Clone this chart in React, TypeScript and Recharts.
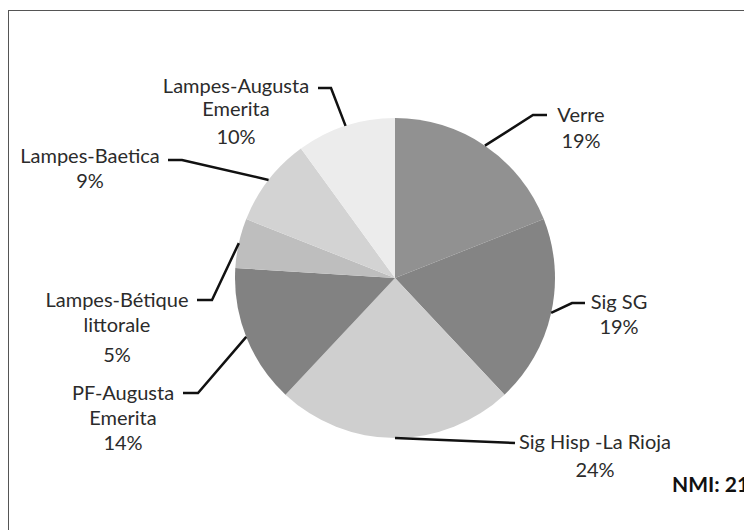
import React from "react";
import { PieChart, Pie, Cell } from "recharts";

// slice data, clockwise from 12 o'clock
const categories = [
  "Verre",
  "Sig SG",
  "Sig Hisp -La Rioja",
  "PF-Augusta Emerita",
  "Lampes-Bétique littorale",
  "Lampes-Baetica",
  "Lampes-Augusta Emerita",
];
const shares = [19, 19, 24, 14, 5, 9, 10];
const labelLines = [
  ["Verre"],
  ["Sig SG"],
  ["Sig Hisp -La Rioja"],
  ["PF-Augusta", "Emerita"],
  ["Lampes-Bétique", "littorale"],
  ["Lampes-Baetica"],
  ["Lampes-Augusta", "Emerita"],
];
const fills = ["#919191", "#848484", "#cfcfcf", "#828282", "#bebebe", "#d3d3d3", "#ececec"];

const data = categories.map((name, i) => ({ name, value: shares[i] }));

// label placement relative to pie centre: elbow, stub end, text centre x, line y's
const layout = [
  { ex: 138, ey: -163, sx: 152, tx: 186, ys: [-164, -138] },
  { ex: 177, ey: 25, sx: 190, tx: 224, ys: [23, 48] },
  { ex: 120, ey: 165, sx: 120, tx: 200, ys: [163, 191] },
  { ex: -197, ey: 115, sx: -212, tx: -272, ys: [114, 139, 164] },
  { ex: -183, ey: 22, sx: -198, tx: -278, ys: [21, 46, 76] },
  { ex: -213, ey: -118, sx: -227, tx: -305, ys: [-123, -98] },
  { ex: -64, ey: -190, sx: -77, tx: -159, ys: [-193, -170, -142] },
];

const RAD = Math.PI / 180;

function renderLabel(props: any) {
  const { cx, cy, midAngle, outerRadius, index, value } = props;
  const l = layout[index];
  const x0 = cx + Math.cos(-midAngle * RAD) * outerRadius;
  const y0 = cy + Math.sin(-midAngle * RAD) * outerRadius;
  const lines = [...labelLines[index], `${value}%`];
  return (
    <g key={"lbl" + index}>
      <path
        d={`M${x0},${y0} L${cx + l.ex},${cy + l.ey} L${cx + l.sx},${cy + l.ey}`}
        stroke="#111"
        strokeWidth={2.5}
        fill="none"
      />
      {lines.map((t, j) => (
        <text
          key={j}
          x={cx + l.tx}
          y={cy + l.ys[j]}
          textAnchor="middle"
          dominantBaseline="central"
          fontFamily="Lato, sans-serif"
          fontSize={20}
          fill="#2b2b2b"
        >
          {t}
        </text>
      ))}
    </g>
  );
}

export default function App() {
  return (
    <div style={{ position: "relative", width: 744, height: 522, overflow: "hidden", background: "#fff" }}>
      <div
        style={{
          position: "absolute",
          left: 0,
          top: 2,
          width: 780,
          height: 560,
          border: "1.5px solid #555",
          boxSizing: "border-box",
        }}
      />
      <PieChart
        width={744}
        height={522}
        margin={{ top: 0, right: 0, bottom: 0, left: 0 }}
        style={{ position: "absolute", left: 0, top: 0 }}
      >
        <Pie
          data={data}
          dataKey="value"
          nameKey="name"
          cx={387}
          cy={270}
          outerRadius={160}
          startAngle={90}
          endAngle={-270}
          stroke="none"
          label={renderLabel}
          labelLine={false}
          isAnimationActive={false}
        >
          {data.map((d, i) => (
            <Cell key={d.name} fill={fills[i]} />
          ))}
        </Pie>
      </PieChart>
      <div
        style={{
          position: "absolute",
          left: 664,
          top: 463,
          fontFamily: "Lato, sans-serif",
          fontWeight: "bold",
          fontSize: 21,
          color: "#111",
          whiteSpace: "nowrap",
        }}
      >
        NMI: 21
      </div>
    </div>
  );
}
